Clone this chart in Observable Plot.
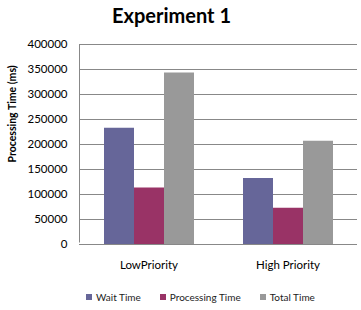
<!DOCTYPE html>
<html>
<head>
<meta charset="utf-8">
<script src="https://cdn.jsdelivr.net/npm/d3@7"></script>
<script src="https://cdn.jsdelivr.net/npm/@observablehq/plot@0.6"></script>
<style>
  html, body { margin: 0; padding: 0; background: #fff; }
  #wrap { width: 361px; height: 310px; overflow: hidden; font-family: Lato, "Open Sans", sans-serif; }
  #title { height: 34px; line-height: 31px; font-size: 20px; font-weight: bold; text-align: center; padding-right: 18px; color: #000; }
  #chart svg { display: block; }
  #legend { height: 26px; padding-left: 86px; }
  #legend .lg-swatches { margin: 0 !important; min-height: 26px !important; align-items: center; }
  #legend .lg-swatch { margin-right: 19px !important; }
  #legend .lg-swatch svg { margin-right: 4px !important; }
</style>
</head>
<body>
<div id="wrap">
  <div id="title">Experiment 1</div>
  <div id="chart"></div>
  <div id="legend"></div>
</div>
<script>
const categories = ["LowPriority", "High Priority"];
const series = ["Wait Time", "Processing Time", "Total Time"];
const waitTime = [232500, 132000];
const processingTime = [113000, 72500];
const totalTime = [343000, 206500];
const yTicks = [0, 50000, 100000, 150000, 200000, 250000, 300000, 350000, 400000];
const yLabel = "Processing Time (ms)";
const colors = ["#666699", "#993366", "#999999"];

const valuesBySeries = [waitTime, processingTime, totalTime];
const data = categories.flatMap((cat, i) =>
  series.map((s, j) => ({cat, series: s, value: valuesBySeries[j][i]}))
);

const lineColor = "#888888";
const W = 361, H = 250, mL = 78, mR = 4, mT = 10, mB = 40;
const innerW = W - mL - mR, innerH = H - mT - mB;

const chart = Plot.plot({
  width: W,
  height: H,
  marginLeft: mL,
  marginRight: mR,
  marginTop: mT,
  marginBottom: mB,
  style: {fontFamily: "Lato, 'Open Sans', sans-serif", fontSize: "11.5px", color: "#000", background: "#fff"},
  fx: {domain: categories, padding: 0, axis: "bottom", label: null, tickSize: 0, tickPadding: 16},
  x: {domain: series, axis: null, paddingInner: 0, paddingOuter: 0.78},
  y: {domain: [0, 400000], ticks: yTicks, tickFormat: d => String(d), tickSize: 0, tickPadding: 12, label: null},
  color: {domain: series, range: colors},
  marks: [
    Plot.gridY(yTicks, {stroke: lineColor, strokeOpacity: 1}),
    Plot.barY(data, {fx: "cat", x: "series", y: "value", fill: "series"}),
    Plot.ruleY([0], {stroke: lineColor}),
    // left axis line only: dash pattern hides top, right and bottom edges of the frame rect
    Plot.frame({facet: "super", stroke: lineColor, strokeDasharray: `0,${2 * innerW + innerH},${innerH}`}),
    Plot.text([yLabel], {facet: "super", frameAnchor: "left", rotate: -90, dx: -67, dy: 18, fontWeight: "bold", fontSize: 10.5})
  ]
});
document.getElementById("chart").appendChild(chart);

const legend = Plot.legend({
  color: {domain: series, range: colors},
  legend: "swatches",
  swatchSize: 6,
  className: "lg",
  style: {fontFamily: "Lato, 'Open Sans', sans-serif", fontSize: "10px", color: "#222"}
});
document.getElementById("legend").appendChild(legend);
</script>
</body>
</html>
